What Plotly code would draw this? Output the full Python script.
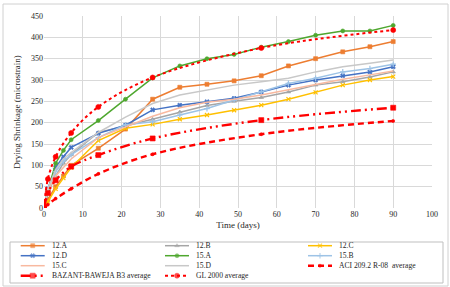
import plotly.graph_objects as go

days = [0, 1, 3, 5, 7, 14, 21, 28, 35, 42, 49, 56, 63, 70, 77, 84, 90]
s12A = [0, 20, 50, 75, 100, 140, 185, 255, 283, 290, 298, 310, 333, 350, 366, 378, 390]
s12B = [0, 35, 75, 105, 125, 177, 192, 208, 225, 240, 250, 259, 272, 288, 296, 307, 319]
s12C = [0, 15, 45, 70, 95, 158, 187, 196, 208, 218, 229, 241, 255, 271, 288, 300, 308]
s12D = [0, 45, 95, 120, 142, 175, 194, 230, 241, 249, 257, 272, 288, 300, 310, 319, 331]
s15A = [0, 40, 105, 135, 160, 205, 255, 305, 333, 350, 360, 377, 390, 405, 415, 415, 428]
s15B = [0, 45, 85, 110, 125, 165, 195, 202, 218, 233, 253, 272, 292, 304, 319, 327, 337]
s15C = [0, 40, 75, 95, 115, 165, 190, 215, 235, 248, 255, 265, 277, 290, 302, 312, 321]
s15D = [0, 45, 90, 115, 130, 177, 213, 245, 265, 276, 288, 296, 304, 319, 331, 339, 347]

model_days = [0, 1, 3, 7, 14, 28, 56, 90]
aci = [0, 8, 22, 45, 80, 126, 173, 204]
b3 = [0, 35, 65, 97, 124, 163, 206, 235]
gl = [0, 68, 120, 176, 237, 306, 375, 417]

x_ticks = [0, 10, 20, 30, 40, 50, 60, 70, 80, 90, 100]
y_ticks = [0, 50, 100, 150, 200, 250, 300, 350, 400, 450]

font = "Liberation Serif, Times New Roman, serif"
txt = "#262626"

series = [
    # name, x, y, color, symbol, line width, marker size, dash, shape
    ("12.A", days, s12A, "#ED7D31", "square", 1.5, 4, None, "linear"),
    ("12.B", days, s12B, "#A5A5A5", "triangle-up", 1.5, 4, None, "linear"),
    ("12.C", days, s12C, "#FFC000", "x-thin", 1.5, 4, None, "linear"),
    ("12.D", days, s12D, "#4472C4", "x", 1.5, 4, None, "linear"),
    ("15.A", days, s15A, "#4EA72E", "circle", 1.5, 4, None, "linear"),
    ("15.B", days, s15B, "#9DC3E6", "cross-thin", 1.5, 4, None, "linear"),
    ("15.C", days, s15C, "#F8B9A0", None, 1.5, 0, None, "linear"),
    ("15.D", days, s15D, "#C8C8C8", None, 1.5, 0, None, "linear"),
    ("ACI 209.2 R-08  average", model_days, aci, "#FF0000", "circle", 2.4, 3, "6px,4px", "spline"),
    ("BAZANT-BAWEJA B3 average", model_days, b3, "#FF0000", "square", 2.4, 5,
     "10px,4px,2px,4px,2px,4px", "spline"),
    ("GL 2000 average", model_days, gl, "#FF0000", "circle", 2, 5, "dot", "spline"),
]

fig = go.Figure()

# legend layout (pixel units inside legend box)
col_x = [10.7, 155, 298]
row_y = [37.3, 27.3, 17.3, 7.3]
seg = 24

annotations = []
for i, (name, x, y, color, sym, w, ms, dash, shape) in enumerate(series):
    mline = dict(width=1.2 if sym in ("x-thin", "cross-thin") else 0.6, color=color)
    fig.add_trace(go.Scatter(
        x=x, y=y, name=name, mode="lines+markers" if sym else "lines",
        line_shape=shape, line=dict(color=color, width=w, dash=dash),
        marker=dict(symbol=sym or "circle", size=ms, color=color, line=mline),
        xaxis="x", yaxis="y", showlegend=False,
    ))
    r, c = divmod(i, 3)
    lx0 = col_x[c]
    ly = row_y[r]
    fig.add_trace(go.Scatter(
        x=[lx0, lx0 + seg / 2, lx0 + seg], y=[ly, ly, ly],
        mode="lines+markers" if sym else "lines",
        line=dict(color=color, width=w, dash=dash),
        marker=dict(symbol=sym or "circle", size=[0, ms, 0], color=color, line=mline),
        xaxis="x2", yaxis="y2", showlegend=False, hoverinfo="skip",
    ))
    annotations.append(dict(
        x=lx0 + seg + 5, y=ly, xref="x2", yref="y2", text=name, showarrow=False,
        xanchor="left", yanchor="middle", font=dict(size=7.6, family=font, color=txt)))

grid = "#D9D9D9"
W, H = 450, 287
L, R, T, B = 3, 2, 16, 4
pw, ph = W - L - R, H - T - B

def xd(px):
    return (px - L) / pw

def yd(py):
    return (H - B - py) / ph

fig.update_layout(
    width=W, height=H,
    margin=dict(l=L, r=R, t=T, b=B, autoexpand=False),
    paper_bgcolor="white", plot_bgcolor="white",
    font=dict(family=font, size=8, color=txt),
    showlegend=False,
    xaxis=dict(domain=[xd(44), xd(432)], range=[0, 100], tickvals=x_ticks,
               showgrid=True, gridcolor=grid, gridwidth=1, zeroline=False,
               showline=False, ticks="", anchor="y",
               tickfont=dict(size=8, family=font, color=txt),
               title=dict(text="Time (days)", font=dict(size=9, family=font, color=txt),
                          standoff=3)),
    yaxis=dict(domain=[yd(208), yd(16)], range=[0, 450], tickvals=y_ticks,
               showgrid=True, gridcolor=grid, gridwidth=1, zeroline=False,
               showline=False, ticks="", anchor="x",
               tickfont=dict(size=8, family=font, color=txt),
               title=dict(text="Drying Shrinkage (microstrain)",
                          font=dict(size=9, family=font, color=txt), standoff=8)),
    xaxis2=dict(domain=[xd(10), xd(443)], range=[0, 433], visible=False,
                anchor="y2", fixedrange=True),
    yaxis2=dict(domain=[yd(283), yd(242)], range=[0, 41], visible=False,
                anchor="x2", fixedrange=True),
    annotations=annotations,
    shapes=[
        dict(type="rect", xref="paper", yref="paper",
             x0=xd(3), x1=xd(448), y0=yd(286), y1=yd(4),
             line=dict(color="#D0D0D0", width=1), layer="below"),
        dict(type="rect", xref="paper", yref="paper",
             x0=xd(10), x1=xd(443), y0=yd(283), y1=yd(242),
             line=dict(color="#BFBFBF", width=1), layer="below"),
    ],
)

fig.write_html("out.html")
